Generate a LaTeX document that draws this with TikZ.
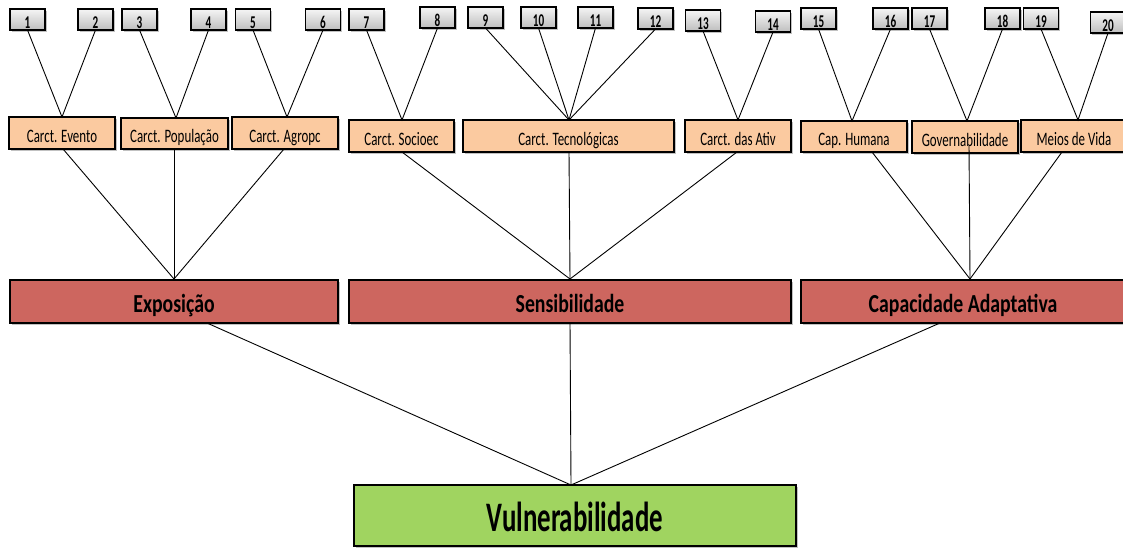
\documentclass[tikz,border=0pt]{standalone}
\usepackage{fontspec}
\setmainfont{Carlito}
\newfontfamily\numfont[FakeStretch=0.62]{Carlito}
\newfontfamily\catfont[FakeStretch=0.68]{Carlito}
\newfontfamily\dimfont[FakeStretch=0.76]{Carlito}
\newfontfamily\vulfont[FakeStretch=0.64]{Carlito}
\usetikzlibrary{shadows}
\definecolor{peach}{RGB}{251,202,160}
\definecolor{brick}{RGB}{205,102,95}
\definecolor{leaf}{RGB}{160,212,96}
\definecolor{gtop}{RGB}{245,245,245}
\definecolor{gbot}{RGB}{190,190,190}
\tikzset{
  basebox/.style={draw=black, line width=1.1pt, inner sep=0pt, outer sep=0pt,
    drop shadow={shadow xshift=1.5pt, shadow yshift=-2pt, opacity=0.35, fill=black!70}},
  numbox/.style={basebox, top color=gtop, bottom color=gbot, minimum width=35pt, minimum height=21pt,
    font=\numfont\bfseries\fontsize{18}{20}\selectfont, text height=17.4pt, text depth=0pt},
  catbox/.style={basebox, fill=peach, minimum width=106pt, minimum height=32pt,
    font=\catfont\fontsize{19}{21}\selectfont, text height=18.2pt, text depth=0pt},
  dimbox/.style={basebox, fill=brick, minimum height=43pt,
    font=\dimfont\bfseries\fontsize{26}{28}\selectfont, text height=22.7pt, text depth=0pt},
  vulbox/.style={basebox, fill=leaf, minimum height=61pt, minimum width=442pt,
    font=\vulfont\bfseries\fontsize{42}{44}\selectfont, text height=31pt, text depth=0pt},
  conn/.style={draw=black, line width=0.9pt}
}
\begin{document}
\begin{tikzpicture}[x=1pt,y=-1pt]
\useasboundingbox (0,0) rectangle (1123,548);
% number boxes
\node[numbox] (n1) at (27.5,19.5) {1};
\node[numbox] (n2) at (95.5,19.5) {2};
\node[numbox] (n3) at (139.5,19.5) {3};
\node[numbox] (n4) at (208.5,19.5) {4};
\node[numbox] (n5) at (253,19.5) {5};
\node[numbox] (n6) at (323,19.5) {6};
\node[numbox] (n7) at (366.5,19.5) {7};
\node[numbox] (n8) at (437.5,17.5) {8};
\node[numbox] (n9) at (485.5,17.5) {9};
\node[numbox] (n10) at (538.5,17.5) {10};
\node[numbox] (n11) at (595.5,17.5) {11};
\node[numbox] (n12) at (655.5,18.5) {12};
\node[numbox] (n13) at (703,20.5) {13};
\node[numbox] (n14) at (773,21.5) {14};
\node[numbox] (n15) at (818.5,18.5) {15};
\node[numbox] (n16) at (890.5,18.5) {16};
\node[numbox] (n17) at (929.5,18.5) {17};
\node[numbox] (n18) at (1002.5,18.5) {18};
\node[numbox] (n19) at (1041,18.5) {19};
\node[numbox] (n20) at (1108,22.5) {20};
% category boxes
\node[catbox] (ev) at (62,133) {Carct. Evento};
\node[catbox, minimum width=107pt, minimum height=31pt] (pop) at (174.5,133.5) {Carct. População};
\node[catbox] (agr) at (285,133) {Carct. Agropc};
\node[catbox, minimum width=105pt] (soc) at (401.5,136) {Carct. Socioec};
\node[catbox, minimum width=211pt] (tec) at (568.5,136) {Carct. Tecnológicas};
\node[catbox] (ati) at (738,136) {Carct. das Ativ};
\node[catbox, minimum height=31pt] (cap) at (854,136.5) {Cap. Humana};
\node[catbox] (gov) at (965,137) {Governabilidade};
\node[catbox] (mei) at (1074,136) {Meios de Vida};
% dimension boxes
\node[dimbox, minimum width=328pt] (exp) at (174,301.5) {Exposição};
\node[dimbox, minimum width=442pt] (sen) at (570,301.5) {Sensibilidade};
\node[dimbox, minimum width=324pt] (cad) at (963,301.5) {Capacidade Adaptativa};
% result
\node[vulbox] (vul) at (575,515.5) {Vulnerabilidade};
% attachment points
\coordinate (ev-t) at (62,117);
\coordinate (pop-t) at (176,118);
\coordinate (agr-t) at (287,117);
\coordinate (soc-t) at (402,120);
\coordinate (tec-t) at (569,120);
\coordinate (ati-t) at (738,120);
\coordinate (cap-t) at (852,121);
\coordinate (gov-t) at (967,121);
\coordinate (mei-t) at (1078,120);
\coordinate (ev-b) at (63,149);
\coordinate (pop-b) at (174,149);
\coordinate (agr-b) at (284,149);
\coordinate (soc-b) at (402,152);
\coordinate (tec-b) at (569,152);
\coordinate (ati-b) at (737,152);
\coordinate (cap-b) at (872,152);
\coordinate (gov-b) at (969,146);
\coordinate (mei-b) at (1062,152);
\coordinate (exp-t) at (174,279);
\coordinate (sen-t) at (570,279);
\coordinate (cad-t) at (970,279);
\coordinate (exp-b) at (207,323);
\coordinate (sen-b) at (570,323);
\coordinate (cad-b) at (940,323);
\coordinate (vul-t) at (571,485);
% connectors: numbers to categories
\draw[conn] (n1.south) -- (ev-t) -- (n2.south);
\draw[conn] (n3.south) -- (pop-t) -- (n4.south);
\draw[conn] (n5.south) -- (agr-t) -- (n6.south);
\draw[conn] (n7.south) -- (soc-t) -- (n8.south);
\draw[conn] (n9.south) -- (tec-t);
\draw[conn] (n10.south) -- (tec-t);
\draw[conn] (n11.south) -- (tec-t);
\draw[conn] (n12.south) -- (tec-t);
\draw[conn] (n13.south) -- (ati-t) -- (n14.south);
\draw[conn] (n15.south) -- (cap-t) -- (n16.south);
\draw[conn] (n17.south) -- (gov-t) -- (n18.south);
\draw[conn] (n19.south) -- (mei-t) -- (n20.south);
% categories to dimensions
\draw[conn] (ev-b) -- (exp-t);
\draw[conn] (pop-b) -- (exp-t);
\draw[conn] (agr-b) -- (exp-t);
\draw[conn] (soc-b) -- (sen-t);
\draw[conn] (tec-b) -- (sen-t);
\draw[conn] (ati-b) -- (sen-t);
\draw[conn] (cap-b) -- (cad-t);
\draw[conn] (gov-b) -- (cad-t);
\draw[conn] (mei-b) -- (cad-t);
% dimensions to result
\draw[conn] (exp-b) -- (vul-t);
\draw[conn] (sen-b) -- (vul-t);
\draw[conn] (cad-b) -- (vul-t);
\end{tikzpicture}
\end{document}
